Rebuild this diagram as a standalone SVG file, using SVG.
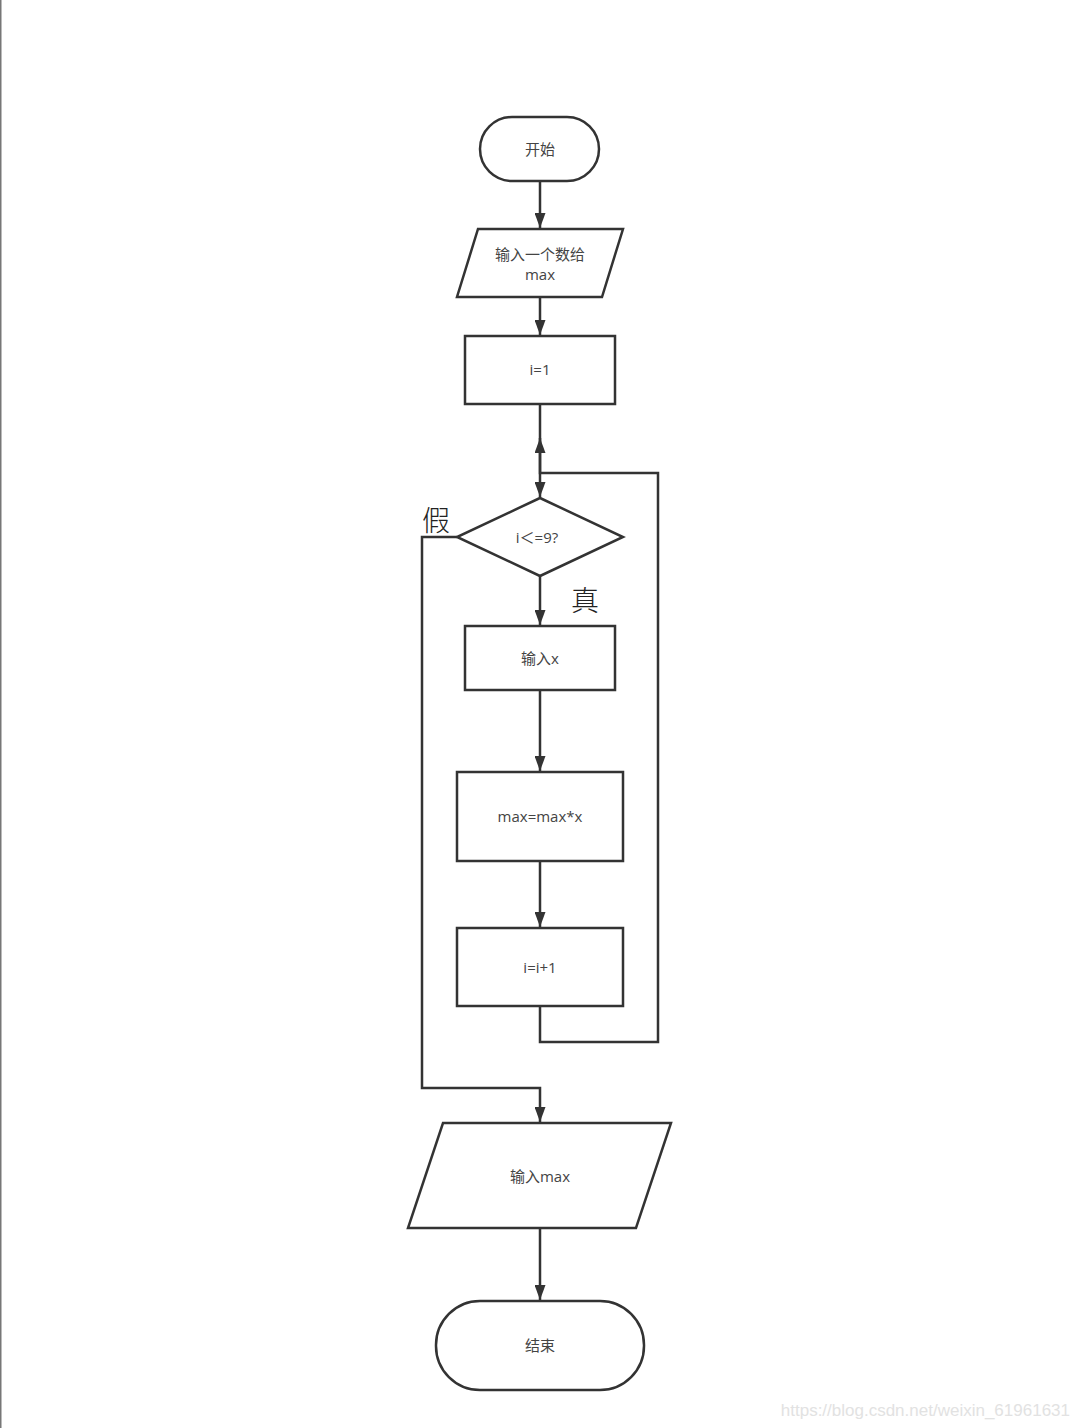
<svg xmlns="http://www.w3.org/2000/svg" width="1080" height="1428" viewBox="0 0 1080 1428">
<defs>
<style>
.shape{fill:#fff;stroke:#333;stroke-width:2.5}
.line{fill:none;stroke:#333;stroke-width:2.5}
.t{font-family:"Open Sans","Noto Sans CJK SC",sans-serif;font-size:15px;fill:#444;text-anchor:middle}
.hand{font-family:"Noto Sans CJK SC",sans-serif;font-weight:300;font-size:28px;fill:#222}
</style>
<marker id="ah" viewBox="0 0 15 11" refX="15" refY="5.5" markerWidth="15" markerHeight="11" orient="auto" markerUnits="userSpaceOnUse">
<path d="M0,0 L15,5.5 L0,11 z" fill="#333"/>
</marker>
</defs>
<rect x="0" y="0" width="1080" height="1428" fill="#fff"/>
<line x1="0.75" y1="0" x2="0.75" y2="1428" stroke="#777" stroke-width="1.5"/>

<g id="connectors">
<line class="line" x1="540" y1="181" x2="540" y2="228" marker-end="url(#ah)"/>
<line class="line" x1="540" y1="297" x2="540" y2="335" marker-end="url(#ah)"/>
<line class="line" x1="540" y1="404" x2="540" y2="497" marker-end="url(#ah)"/>
<polyline class="line" points="540,1006 540,1042 658,1042 658,473 540,473 540,438" marker-end="url(#ah)"/>
<line class="line" x1="540" y1="576" x2="540" y2="625" marker-end="url(#ah)"/>
<line class="line" x1="540" y1="690" x2="540" y2="771" marker-end="url(#ah)"/>
<line class="line" x1="540" y1="861" x2="540" y2="927" marker-end="url(#ah)"/>
<polyline class="line" points="457,537 422,537 422,1088 540,1088 540,1122" marker-end="url(#ah)"/>
<line class="line" x1="540" y1="1228" x2="540" y2="1300" marker-end="url(#ah)"/>
<text class="hand" x="422" y="531">假</text>
<text class="hand" x="571" y="611">真</text>
</g>

<g id="start">
<rect class="shape" x="480" y="117" width="119" height="64" rx="32" ry="32"/>
<text class="t" x="540" y="155">开始</text>
</g>
<g id="input-max">
<polygon class="shape" points="478,229 623,229 602,297 457,297"/>
<text class="t" x="540" y="260">输入一个数给</text>
<text class="t" x="540" y="280">max</text>
</g>
<g id="init-i">
<rect class="shape" x="465" y="336" width="150" height="68"/>
<text class="t" x="540" y="375">i=1</text>
</g>
<g id="cond">
<polygon class="shape" points="540,498 623,537 540,576 457,537"/>
<text class="t" x="537" y="543">i＜=9?</text>
</g>
<g id="input-x">
<rect class="shape" x="465" y="626" width="150" height="64"/>
<text class="t" x="540" y="664">输入x</text>
</g>
<g id="mult">
<rect class="shape" x="457" y="772" width="166" height="89"/>
<text class="t" x="540" y="822">max=max*x</text>
</g>
<g id="inc">
<rect class="shape" x="457" y="928" width="166" height="78"/>
<text class="t" x="540" y="973">i=i+1</text>
</g>
<g id="output-max">
<polygon class="shape" points="443,1123 671,1123 636,1228 408,1228"/>
<text class="t" x="540" y="1182">输入max</text>
</g>
<g id="end">
<rect class="shape" x="436" y="1301" width="208" height="89" rx="44" ry="44"/>
<text class="t" x="540" y="1351">结束</text>
</g>
<text x="1070" y="1416" font-family="'Liberation Sans',Arial,sans-serif" font-size="17" fill="#e2e2e2" text-anchor="end">https://blog.csdn.net/weixin_61961631</text>
</svg>
